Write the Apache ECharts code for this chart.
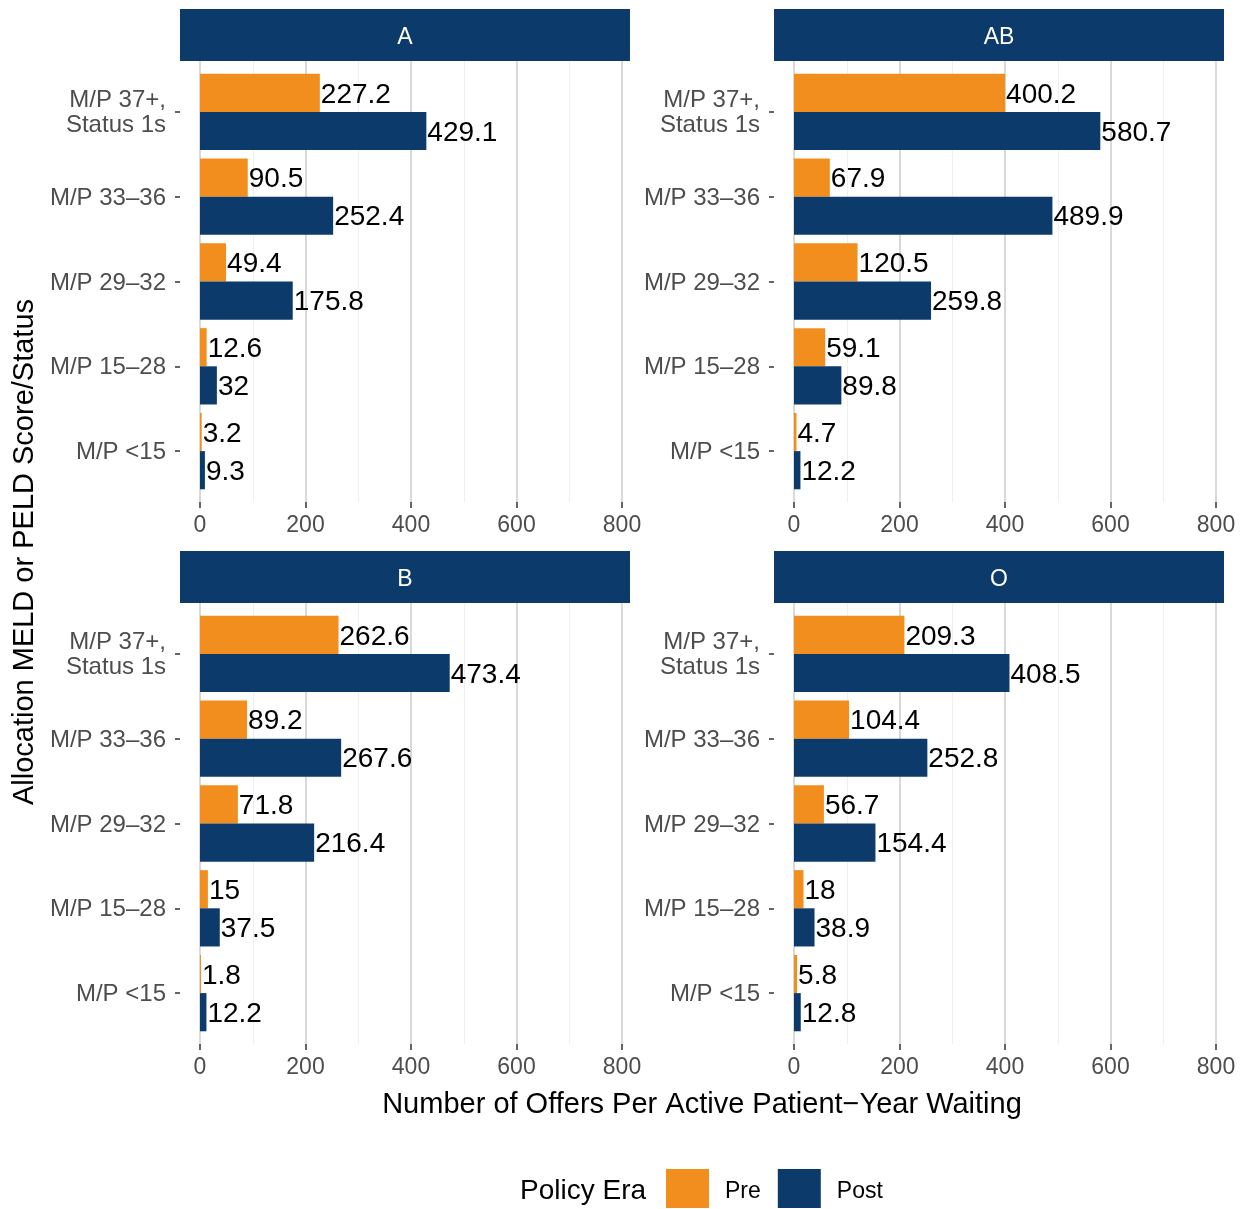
<!DOCTYPE html>
<html><head><meta charset="utf-8">
<script src="https://cdn.jsdelivr.net/npm/echarts@6/dist/echarts.min.js"></script>
<style>html,body{margin:0;padding:0;background:#fff}#c{width:1247px;height:1209px}</style>
</head><body><div id="c"></div>
<script>
const categories = ['M/P 37+,\nStatus 1s', 'M/P 33–36', 'M/P 29–32', 'M/P 15–28', 'M/P <15'];
const facets = ['A', 'AB', 'B', 'O'];
const preA = [227.2, 90.5, 49.4, 12.6, 3.2];
const postA = [429.1, 252.4, 175.8, 32, 9.3];
const preAB = [400.2, 67.9, 120.5, 59.1, 4.7];
const postAB = [580.7, 489.9, 259.8, 89.8, 12.2];
const preB = [262.6, 89.2, 71.8, 15, 1.8];
const postB = [473.4, 267.6, 216.4, 37.5, 12.2];
const preO = [209.3, 104.4, 56.7, 18, 5.8];
const postO = [408.5, 252.8, 154.4, 38.9, 12.8];
const xTicks = [0, 200, 400, 600, 800];

const preData = [preA, preAB, preB, preO];
const postData = [postA, postAB, postB, postO];
const ORANGE = '#F28E1E', NAVY = '#0C3A6B';
const FONT = '"Liberation Sans", Arial, sans-serif';

const chart = echarts.init(document.getElementById('c'), null, {renderer: 'canvas'});
const grids = [], xAxes = [], yAxes = [], series = [], graphics = [];
const colLeft = [200, 794];
const rowTop = [61, 603];
const panelH = 441;
const pxPerUnit = 422 / 800;
const band = panelH / (categories.length - 1 + 1.2);

facets.forEach((f, i) => {
  const c = i % 2, r = Math.floor(i / 2);
  const left = colLeft[c], top = rowTop[r];
  grids.push({left: left, top: top, width: 422, height: panelH, containLabel: false});
  const gBg = grids.length - 1;
  xAxes.push({
    gridIndex: gBg, type: 'value', min: xTicks[0], max: xTicks[xTicks.length - 1], interval: 200,
    axisLine: {show: false},
    axisTick: {show: true, length: 6, lineStyle: {color: '#333333', width: 1.5}},
    axisLabel: {show: true, color: '#4d4d4d', fontSize: 23, fontFamily: FONT, margin: 12},
    splitLine: {show: true, lineStyle: {color: '#d9d9d9', width: 2}},
    minorTick: {show: false, splitNumber: 2},
    minorSplitLine: {show: true, lineStyle: {color: '#efefef', width: 1}}
  });
  yAxes.push({gridIndex: gBg, type: 'value', show: false, min: 0, max: 1});
  const bTop = top + 0.6 * band - band / 2;
  const pLeft = left - 20, pW = 450;
  const vMin = -20 / pxPerUnit, vMax = vMin + pW / pxPerUnit;
  grids.push({left: pLeft, top: bTop, width: pW, height: band * categories.length, containLabel: false});
  const gBar = grids.length - 1;
  xAxes.push({gridIndex: gBar, type: 'value', min: vMin, max: vMax, show: false});
  yAxes.push({
    gridIndex: gBar, type: 'category', data: categories, inverse: true,
    axisLine: {show: false, onZero: false},
    axisTick: {show: true, inside: false, alignWithLabel: true, length: 5, lineStyle: {color: '#333333', width: 1.5}},
    axisLabel: {
      color: '#4d4d4d', fontSize: 24, fontFamily: FONT, margin: 14, lineHeight: 26, align: 'right',
      formatter: v => v.split('\n').map((s, k) => (k === 0 ? '{f|' : '{n|') + s + '}').join('\n'),
      rich: {
        f: {color: '#4d4d4d', fontSize: 24, fontFamily: FONT, lineHeight: 26, padding: [3, 0, 0, 0], align: 'right'},
        n: {color: '#4d4d4d', fontSize: 24, fontFamily: FONT, lineHeight: 26, align: 'right'}
      }
    },
    splitLine: {show: false}
  });
  const xi = xAxes.length - 1, yi = yAxes.length - 1;
  const lbl = {show: true, position: 'right', distance: 1, offset: [0, 2], color: '#000', fontSize: 28, fontFamily: FONT};
  series.push({name: 'Pre', type: 'bar', xAxisIndex: xi, yAxisIndex: yi, data: preData[i],
    itemStyle: {color: ORANGE}, barGap: '0%', barCategoryGap: '10%', label: lbl, animation: false});
  series.push({name: 'Post', type: 'bar', xAxisIndex: xi, yAxisIndex: yi, data: postData[i],
    itemStyle: {color: NAVY}, barGap: '0%', barCategoryGap: '10%', label: lbl, animation: false});
  graphics.push({type: 'rect', left: pLeft, top: top - 52, shape: {width: pW, height: 52}, style: {fill: NAVY}, z: 10});
  graphics.push({type: 'text', x: pLeft + pW / 2, y: top - 23, style: {text: f, fill: '#fff', font: '23px ' + FONT, textAlign: 'center', textVerticalAlign: 'middle'}, z: 11});
});

graphics.push({type: 'text', x: 702, y: 1105, style: {text: 'Number of Offers Per Active Patient\u2212Year Waiting', fill: '#000', font: '29px ' + FONT, textAlign: 'center', textVerticalAlign: 'middle'}});
graphics.push({type: 'text', x: 25, y: 552, rotation: Math.PI / 2, style: {text: 'Allocation MELD or PELD Score/Status', fill: '#000', font: '29px ' + FONT, textAlign: 'center', textVerticalAlign: 'middle'}});
graphics.push({type: 'text', x: 520, y: 1191, style: {text: 'Policy Era', fill: '#000', font: '28px ' + FONT, textAlign: 'left', textVerticalAlign: 'middle'}});

chart.setOption({
  animation: false,
  textStyle: {fontFamily: FONT},
  grid: grids, xAxis: xAxes, yAxis: yAxes, series: series,
  legend: {
    data: ['Pre', 'Post'], left: 666, top: 1169, orient: 'horizontal', icon: 'rect', padding: 0,
    itemWidth: 43, itemHeight: 39, itemGap: 17, selectedMode: false,
    formatter: '{t|{name}}',
    textStyle: {fontSize: 23, color: '#000', fontFamily: FONT, padding: [0, 0, 0, 11],
      rich: {t: {fontSize: 23, color: '#000', fontFamily: FONT, padding: [6, 0, 0, 0]}}}
  },
  graphic: graphics
});
</script></body></html>
